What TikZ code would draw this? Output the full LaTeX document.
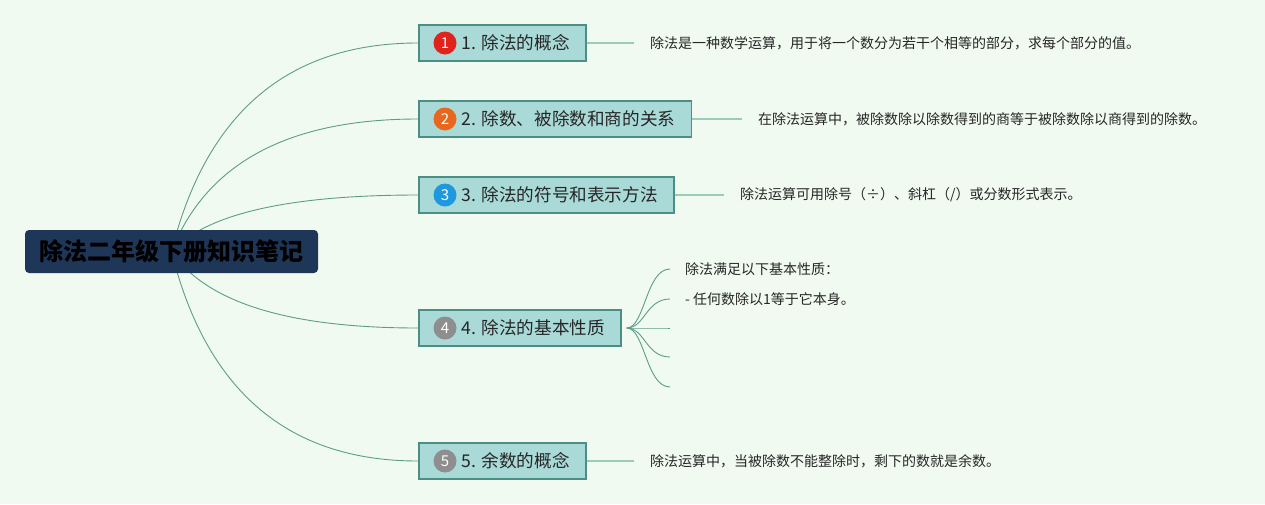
\documentclass[tikz,border=0pt]{standalone}
\usepackage{fontspec}
\setmainfont{Noto Sans CJK SC}
\usepackage{tikz}
\usetikzlibrary{calc,positioning,backgrounds}
\definecolor{bgmint}{HTML}{F0FAF1}
\definecolor{rootnavy}{HTML}{1E3658}
\definecolor{topicfill}{HTML}{A9DAD8}
\definecolor{topicedge}{HTML}{4A8E84}
\definecolor{branchline}{HTML}{5E9C8A}
\definecolor{leafline}{HTML}{9CCBB8}
\definecolor{numred}{HTML}{E0231B}
\definecolor{numorange}{HTML}{E8671C}
\definecolor{numblue}{HTML}{1E98DE}
\definecolor{numgray}{HTML}{8E8E8E}

\begin{document}
\begin{tikzpicture}[x=1pt, y=-1pt,
  root/.style={fill=rootnavy, rounded corners=4pt, minimum width=293pt,
               minimum height=43pt, font=\fontsize{24}{27}\selectfont\bfseries},
  topic/.style={draw=topicedge, line width=1.6pt, fill=topicfill, anchor=west,
                minimum height=36pt, inner xsep=16pt, inner ysep=0pt,
                execute at begin node={\hspace*{27pt}},
                font=\fontsize{17.6}{20}\selectfont, text=black!85},
  numdot/.style={circle, inner sep=0pt, minimum size=23pt, text=white,
                 font=\fontsize{15}{15}\selectfont},
  leaf/.style={anchor=west, inner sep=0pt, font=\fontsize{14}{16}\selectfont,
               text=black!85},
  branch/.style={draw=branchline, line width=0.9pt},
  twig/.style={draw=leafline, line width=1.3pt}
]
\useasboundingbox (0,0) rectangle (1265,504);
% Root
\node[root] (root) at (171.5,251.5) {除法二年级下册知识笔记};
% Topics
\node[topic] (t1) at (418,43) {1. 除法的概念};
\node[topic] (t2) at (418,119) {2. 除数、被除数和商的关系};
\node[topic] (t3) at (418,195) {3. 除法的符号和表示方法};
\node[topic] (t4) at (418,328) {4. 除法的基本性质};
\node[topic] (t5) at (418,461) {5. 余数的概念};
\node[numdot, fill=numred] (n1) at ([xshift=27pt]t1.west) {1};
\node[numdot, fill=numorange] (n2) at ([xshift=27pt]t2.west) {2};
\node[numdot, fill=numblue] (n3) at ([xshift=27pt]t3.west) {3};
\node[numdot, fill=numgray] (n4) at ([xshift=27pt]t4.west) {4};
\node[numdot, fill=numgray] (n5) at ([xshift=27pt]t5.west) {5};
% Leaves
\node[leaf] (l1) at (650,43) {除法是一种数学运算，用于将一个数分为若干个相等的部分，求每个部分的值。};
\node[leaf] (l2) at (758,119) {在除法运算中，被除数除以除数得到的商等于被除数除以商得到的除数。};
\node[leaf] (l3) at (740,195) {除法运算可用除号（÷）、斜杠（/）或分数形式表示。};
\node[leaf] (l5) at (650,461) {除法运算中，当被除数不能整除时，剩下的数就是余数。};
\draw[twig] (t1.east) -- ([xshift=-16pt]l1.west);
\draw[twig] (t2.east) -- ([xshift=-16pt]l2.west);
\draw[twig] (t3.east) -- ([xshift=-16pt]l3.west);
\draw[twig] (t5.east) -- ([xshift=-16pt]l5.west);
% Properties under topic 4
\coordinate (s1) at (670,269);
\coordinate (s2) at (670,299);
\coordinate (s3) at (670,328);
\coordinate (s4) at (670,357);
\coordinate (s5) at (670,387);
\node[leaf] (p1) at (685,269) {除法满足以下基本性质：};
\node[leaf] (p2) at (685,299) {- 任何数除以1等于它本身。};
\foreach \s in {s1,s2,s3,s4,s5}
  \draw[branch] ([xshift=5pt]t4.east) .. controls +(18,0) and +(-24,0) .. (\s);
% Main branches
\begin{scope}[on background layer]
\fill[bgmint] (0,0) rectangle (1265,504);
\foreach \t in {t1,t2,t3,t4,t5}
  \draw[branch] (root.center)
    .. controls ($(root.center)!2/3!([xshift=52pt]root.center |- \t.west)$)
    and ($(\t.west)!2/3!([xshift=52pt]root.center |- \t.west)$) .. (\t.west);
\end{scope}
\end{tikzpicture}
\end{document}
